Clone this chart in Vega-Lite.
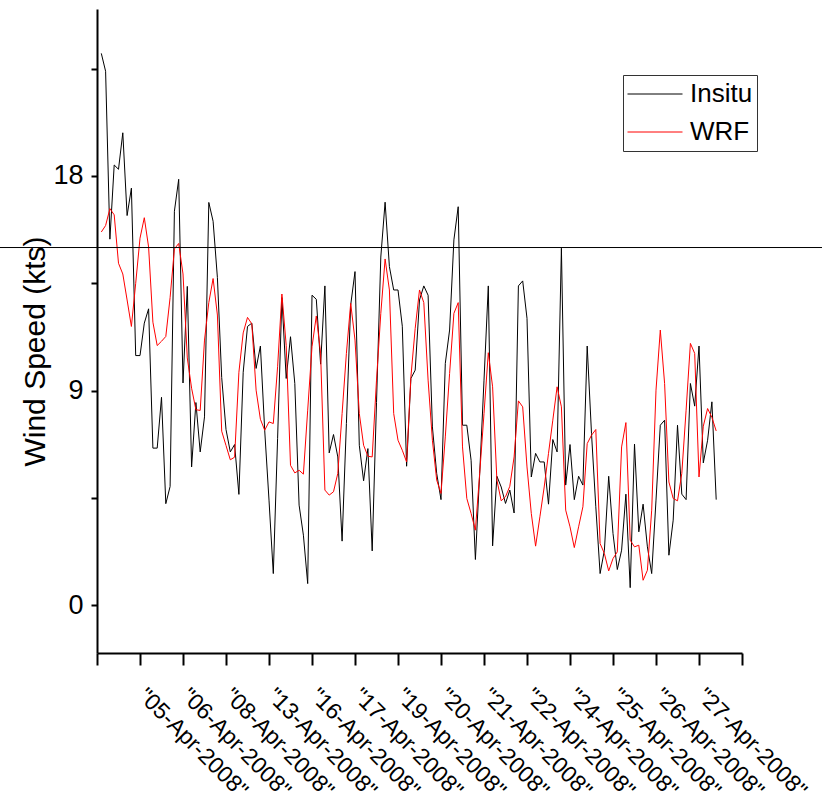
{
  "$schema": "https://vega.github.io/schema/vega-lite/v6.json",
  "autosize": {"type": "none"},
  "width": 645,
  "height": 644,
  "padding": {"left": 97, "top": 9, "right": 80, "bottom": 149},
  "config": {
    "view": {"stroke": null},
    "font": "Liberation Sans",
    "axis": {"domainColor": "#000", "tickColor": "#000", "labelColor": "#000", "titleColor": "#000", "grid": false, "labelFont": "Liberation Sans", "titleFont": "Liberation Sans", "titleFontWeight": "normal"}
  },
  "datasets": {
    "speeds": [
      {"i":1,"Insitu":23.14,"WRF":15.65},{"i":2,"Insitu":22.39,"WRF":15.92},{"i":3,"Insitu":15.35,"WRF":16.63},{"i":4,"Insitu":18.46,"WRF":16.37},{"i":5,"Insitu":18.28,"WRF":14.34},
      {"i":6,"Insitu":19.81,"WRF":13.89},{"i":7,"Insitu":16.34,"WRF":12.8},{"i":8,"Insitu":17.49,"WRF":11.69},{"i":9,"Insitu":10.47,"WRF":13.5},{"i":10,"Insitu":10.47,"WRF":15.39},
      {"i":11,"Insitu":11.83,"WRF":16.25},{"i":12,"Insitu":12.43,"WRF":15.02},{"i":13,"Insitu":6.59,"WRF":11.87},{"i":14,"Insitu":6.59,"WRF":10.89},{"i":15,"Insitu":8.72,"WRF":11.07},
      {"i":16,"Insitu":4.26,"WRF":11.27},{"i":17,"Insitu":4.98,"WRF":12.9},{"i":18,"Insitu":16.52,"WRF":14.94},{"i":19,"Insitu":17.86,"WRF":15.17},{"i":20,"Insitu":9.32,"WRF":13.89},
      {"i":21,"Insitu":13.37,"WRF":10.37},{"i":22,"Insitu":5.8,"WRF":9.1},{"i":23,"Insitu":8.5,"WRF":8.2},{"i":24,"Insitu":6.43,"WRF":8.17},{"i":25,"Insitu":7.9,"WRF":11.12},
      {"i":26,"Insitu":16.89,"WRF":12.69},{"i":27,"Insitu":16.1,"WRF":13.7},{"i":28,"Insitu":13.74,"WRF":12.17},{"i":29,"Insitu":9.55,"WRF":7.3},{"i":30,"Insitu":7.37,"WRF":6.7},
      {"i":31,"Insitu":6.43,"WRF":6.1},{"i":32,"Insitu":6.74,"WRF":6.21},{"i":33,"Insitu":4.65,"WRF":9.77},{"i":34,"Insitu":9.77,"WRF":11.42},{"i":35,"Insitu":11.69,"WRF":12.07},
      {"i":36,"Insitu":11.83,"WRF":11.8},{"i":37,"Insitu":9.93,"WRF":9.02},{"i":38,"Insitu":10.87,"WRF":7.8},{"i":39,"Insitu":7.34,"WRF":7.34},{"i":40,"Insitu":4.41,"WRF":7.69},
      {"i":41,"Insitu":1.33,"WRF":7.62},{"i":42,"Insitu":7.0,"WRF":10.0},{"i":43,"Insitu":12.9,"WRF":13.05},{"i":44,"Insitu":9.51,"WRF":10.9},{"i":45,"Insitu":11.26,"WRF":5.87},
      {"i":46,"Insitu":9.3,"WRF":5.55},{"i":47,"Insitu":4.2,"WRF":5.66},{"i":48,"Insitu":2.94,"WRF":5.5},{"i":49,"Insitu":0.91,"WRF":8.18},{"i":50,"Insitu":13.0,"WRF":10.84},
      {"i":51,"Insitu":12.83,"WRF":12.13},{"i":52,"Insitu":10.11,"WRF":10.56},{"i":53,"Insitu":13.39,"WRF":4.83},{"i":54,"Insitu":6.39,"WRF":4.62},{"i":55,"Insitu":7.16,"WRF":4.76},
      {"i":56,"Insitu":6.22,"WRF":5.53},{"i":57,"Insitu":2.69,"WRF":8.04},{"i":58,"Insitu":7.62,"WRF":10.56},{"i":59,"Insitu":12.59,"WRF":12.66},{"i":60,"Insitu":13.99,"WRF":11.12},
      {"i":61,"Insitu":6.71,"WRF":8.04},{"i":62,"Insitu":5.22,"WRF":6.71},{"i":63,"Insitu":6.57,"WRF":6.25},{"i":64,"Insitu":2.28,"WRF":6.22},{"i":65,"Insitu":8.5,"WRF":9.44},
      {"i":66,"Insitu":14.6,"WRF":12.24},{"i":67,"Insitu":16.9,"WRF":14.52},{"i":68,"Insitu":14.2,"WRF":13.22},{"i":69,"Insitu":13.22,"WRF":8.04},{"i":70,"Insitu":13.22,"WRF":6.92},
      {"i":71,"Insitu":11.7,"WRF":6.5},{"i":72,"Insitu":5.83,"WRF":6.01},{"i":73,"Insitu":9.51,"WRF":9.58},{"i":74,"Insitu":9.86,"WRF":11.61},{"i":75,"Insitu":12.8,"WRF":13.22},
      {"i":76,"Insitu":13.39,"WRF":12.69},{"i":77,"Insitu":13.0,"WRF":9.44},{"i":78,"Insitu":7.48,"WRF":6.92},{"i":79,"Insitu":5.53,"WRF":5.25},{"i":80,"Insitu":4.43,"WRF":4.69},
      {"i":81,"Insitu":10.14,"WRF":7.06},{"i":82,"Insitu":11.54,"WRF":9.72},{"i":83,"Insitu":15.32,"WRF":12.24},{"i":84,"Insitu":16.71,"WRF":12.69},{"i":85,"Insitu":7.55,"WRF":6.64},
      {"i":86,"Insitu":7.55,"WRF":4.48},{"i":87,"Insitu":6.08,"WRF":3.85},{"i":88,"Insitu":1.92,"WRF":3.15},{"i":89,"Insitu":5.53,"WRF":5.53},{"i":90,"Insitu":9.44,"WRF":8.04},
      {"i":91,"Insitu":13.39,"WRF":10.59},{"i":92,"Insitu":2.49,"WRF":9.16},{"i":93,"Insitu":5.41,"WRF":5.25},{"i":94,"Insitu":4.96,"WRF":4.38},{"i":95,"Insitu":4.27,"WRF":4.55},
      {"i":96,"Insitu":4.83,"WRF":4.99},{"i":97,"Insitu":3.87,"WRF":6.22},{"i":98,"Insitu":13.39,"WRF":8.57},{"i":99,"Insitu":13.6,"WRF":8.32},{"i":100,"Insitu":12.03,"WRF":5.8},
      {"i":101,"Insitu":5.38,"WRF":3.85},{"i":102,"Insitu":6.37,"WRF":2.48},{"i":103,"Insitu":6.01,"WRF":3.71},{"i":104,"Insitu":6.01,"WRF":4.96},{"i":105,"Insitu":4.24,"WRF":6.37},
      {"i":106,"Insitu":6.95,"WRF":7.76},{"i":107,"Insitu":6.43,"WRF":9.16},{"i":108,"Insitu":14.97,"WRF":8.32},{"i":109,"Insitu":5.04,"WRF":3.99},{"i":110,"Insitu":6.74,"WRF":3.29},
      {"i":111,"Insitu":4.43,"WRF":2.42},{"i":112,"Insitu":5.41,"WRF":3.29},{"i":113,"Insitu":5.04,"WRF":4.13},{"i":114,"Insitu":10.87,"WRF":6.78},{"i":115,"Insitu":7.2,"WRF":7.13},
      {"i":116,"Insitu":4.13,"WRF":7.37},{"i":117,"Insitu":1.33,"WRF":2.59},{"i":118,"Insitu":2.31,"WRF":2.17},{"i":119,"Insitu":5.41,"WRF":1.44},{"i":120,"Insitu":3.01,"WRF":1.96},
      {"i":121,"Insitu":1.5,"WRF":2.24},{"i":122,"Insitu":2.31,"WRF":6.64},{"i":123,"Insitu":4.66,"WRF":7.66},{"i":124,"Insitu":0.74,"WRF":2.73},{"i":125,"Insitu":6.76,"WRF":2.45},
      {"i":126,"Insitu":3.08,"WRF":2.52},{"i":127,"Insitu":4.24,"WRF":1.05},{"i":128,"Insitu":2.45,"WRF":1.47},{"i":129,"Insitu":1.33,"WRF":3.99},{"i":130,"Insitu":4.41,"WRF":9.02},
      {"i":131,"Insitu":7.55,"WRF":11.54},{"i":132,"Insitu":7.76,"WRF":9.3},{"i":133,"Insitu":2.1,"WRF":5.17},{"i":134,"Insitu":3.57,"WRF":4.48},{"i":135,"Insitu":7.55,"WRF":4.38},
      {"i":136,"Insitu":4.66,"WRF":5.53},{"i":137,"Insitu":4.43,"WRF":8.18},{"i":138,"Insitu":9.3,"WRF":10.98},{"i":139,"Insitu":8.35,"WRF":10.56},{"i":140,"Insitu":10.87,"WRF":5.38},
      {"i":141,"Insitu":5.97,"WRF":7.51},{"i":142,"Insitu":6.92,"WRF":8.25},{"i":143,"Insitu":8.53,"WRF":7.88},{"i":144,"Insitu":4.43,"WRF":7.31}
    ],
    "refline": [{"xa": -23, "xb": 169, "y": 15}]
  },
  "layer": [
    {
      "data": {"name": "speeds"},
      "transform": [{"fold": ["Insitu", "WRF"], "as": ["series", "speed"]}],
      "mark": {"type": "line", "strokeWidth": 1, "interpolate": "linear"},
      "encoding": {
        "x": {
          "field": "i", "type": "quantitative",
          "scale": {"domain": [0, 150], "nice": false, "zero": false},
          "axis": {
            "title": null,
            "values": [0,5,10,15,20,25,30,35,40,45,50,55,60,65,70,75,80,85,90,95,100,105,110,115,120,125,130,135,140,145,150],
            "domainWidth": 2,
            "tickWidth": 2,
            "tickSize": {"condition": {"test": "datum.value % 10 == 0", "value": 12}, "value": 6},
            "labelAngle": 45,
            "labelAlign": "left",
            "labelBaseline": "top",
            "labelFontSize": 23,
            "labelPadding": 19,
            "labelOffset": 9,
            "labelOverlap": false,
            "labelBound": false,
            "labelFlush": false,
            "labelLimit": 0,
            "labelExpr": "(datum.value % 10 == 0 && datum.value >= 10 && datum.value <= 140) ? ['\"05-Apr-2008\"','\"06-Apr-2008\"','\"08-Apr-2008\"','\"13-Apr-2008\"','\"16-Apr-2008\"','\"17-Apr-2008\"','\"19-Apr-2008\"','\"20-Apr-2008\"','\"21-Apr-2008\"','\"22-Apr-2008\"','\"24-Apr-2008\"','\"25-Apr-2008\"','\"26-Apr-2008\"','\"27-Apr-2008\"'][datum.value/10 - 1] : ''"
          }
        },
        "y": {
          "field": "speed", "type": "quantitative",
          "scale": {"domain": [-2, 25], "nice": false, "zero": false},
          "axis": {
            "title": "Wind Speed (kts)",
            "titleFontSize": 30,
            "titleX": -62,
            "titleY": 342,
            "titleAngle": 270,
            "titleAlign": "center",
            "titleBaseline": "middle",
            "values": [0, 4.5, 9, 13.5, 18, 22.5],
            "domainWidth": 2,
            "tickWidth": 2,
            "tickSize": 6,
            "labelFontSize": 27,
            "labelPadding": 8,
            "labelExpr": "datum.value % 9 == 0 ? datum.value : ''"
          }
        },
        "color": {
          "field": "series", "type": "nominal",
          "scale": {"domain": ["Insitu", "WRF"], "range": ["#000000", "#ff0000"]},
          "legend": {
            "title": null,
            "orient": "none",
            "legendX": 526,
            "legendY": 66,
            "symbolType": "stroke",
            "symbolSize": 3025,
            "symbolStrokeWidth": 1,
            "labelFontSize": 26,
            "labelFont": "Liberation Sans",
            "labelColor": "#000",
            "labelOffset": 7,
            "labelLimit": 0,
            "clipHeight": 30,
            "rowPadding": 8,
            "padding": 4,
            "strokeColor": "#333",
            "fillColor": "#ffffff"
          }
        }
      }
    },
    {
      "data": {"name": "refline"},
      "mark": {"type": "rule", "color": "#000", "strokeWidth": 1},
      "encoding": {
        "x": {"field": "xa", "type": "quantitative"},
        "x2": {"field": "xb"},
        "y": {"field": "y", "type": "quantitative"}
      }
    }
  ]
}
